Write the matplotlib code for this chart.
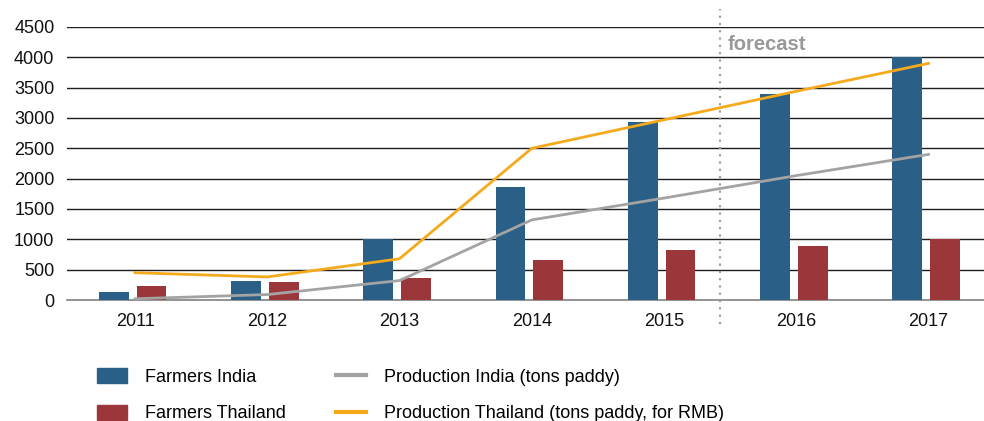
import numpy as np
import matplotlib.pyplot as plt
from matplotlib.patches import Patch
from matplotlib.lines import Line2D

plt.rcParams['font.family'] = ['Liberation Sans', 'DejaVu Sans']

# data
years = ['2011', '2012', '2013', '2014', '2015', '2016', '2017']
farmers_india = [140, 320, 1000, 1870, 2930, 3400, 4000]
farmers_thailand = [230, 300, 360, 660, 830, 890, 1000]
prod_india = [20, 90, 320, 1320, 1680, 2050, 2400]
prod_thailand = [450, 380, 680, 2500, 2970, 3440, 3900]

c_blue = '#2a5f87'
c_red = '#9b373b'
c_gray = '#a3a3a3'
c_yellow = '#f5aa1c'

fig = plt.figure(figsize=(9.84, 4.21), dpi=100)
ax = fig.add_axes([0.068, 0.2874, 0.932, 0.6485])

x = np.arange(len(years))
w = 0.225
ax.bar(x - 0.16, farmers_india, w, color=c_blue, zorder=3)
ax.bar(x + 0.125, farmers_thailand, w, color=c_red, zorder=3)
ax.plot(x, prod_india, color=c_gray, lw=2, zorder=4)
ax.plot(x, prod_thailand, color=c_yellow, lw=2, zorder=4)

ax.set_xlim(-0.515, 6.42)
ax.set_ylim(0, 4500)
ax.set_yticks(np.arange(0, 4501, 500))
ax.set_xticks(x)
ax.set_xticklabels(years)
ax.tick_params(length=0, labelsize=13, colors='#111111')
ax.tick_params(axis='x', pad=9)
ax.tick_params(axis='y', pad=9)
for yv in np.arange(500, 4501, 500):
    ax.axhline(yv, color='#1e1e1e', lw=1.0, zorder=1)
for s in ['top', 'right', 'left']:
    ax.spines[s].set_visible(False)
ax.spines['bottom'].set_color('#808080')
ax.spines['bottom'].set_linewidth(1.2)

# forecast separator
fx = 4.42
ax.plot([fx, fx], [-400, 4800], color='#999999', lw=1.5, ls=(0, (1, 2.5)),
        clip_on=False, zorder=5)
ax.text(fx + 0.06, 4210, 'forecast', color='#999999', fontsize=14.5,
        fontweight='bold', va='center', ha='left')

handles = [Patch(color=c_blue), Patch(color=c_red),
           Line2D([], [], color=c_gray, lw=3), Line2D([], [], color=c_yellow, lw=3)]
labels = ['Farmers India', 'Farmers Thailand',
          'Production India (tons paddy)', 'Production Thailand (tons paddy, for RMB)']
fig.legend(handles, labels, ncol=2, frameon=False, fontsize=13,
           loc='upper left', bbox_to_anchor=(97 / 984, 1 - 368 / 421),
           borderpad=0, borderaxespad=0,
           handlelength=1.66, handleheight=0.9, handletextpad=1.0,
           columnspacing=2.75, labelspacing=1.05)

fig.savefig('out.png', dpi=100)
